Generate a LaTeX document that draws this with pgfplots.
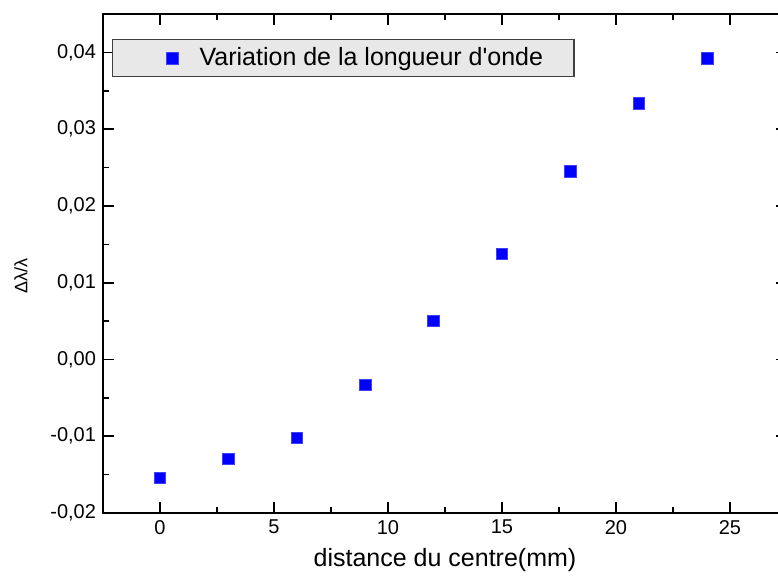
\documentclass[border=0pt]{standalone}
\usepackage{pgfplots}
\pgfplotsset{compat=1.18}
\usepackage{fontspec}
\setmainfont{Liberation Sans}[Ligatures=TeXOff]
\begin{document}
\begin{tikzpicture}
\begin{axis}[
  scale only axis, width=342pt, height=249.5pt,
  xmin=-2.5, xmax=27.5, ymin=-0.02, ymax=0.045,
  xtick={0,5,10,15,20,25},
  ytick={-0.02,-0.01,0,0.01,0.02,0.03,0.04},
  minor x tick num=1, minor y tick num=1,
  tick align=inside,
  xtick pos=both, ytick pos=both,
  xticklabel pos=lower, yticklabel pos=left,
  major tick length=5.5pt, minor tick length=3pt,
  axis line style={line width=1pt},
  every tick/.style={black, line width=0.8pt},
  /pgf/number format/assume math mode=true,
  scaled y ticks=false,
  yticklabel style={/pgf/number format/.cd, fixed, fixed zerofill, precision=2, use comma},
  tick label style={font=\fontsize{10}{12}\selectfont},
  xlabel={distance du centre(mm)},
  xlabel style={font=\fontsize{12.5}{15}\selectfont},
  ylabel={Δλ/λ},
  ylabel style={font=\fontsize{9}{11}\selectfont, at={(ticklabel cs:0.475)}, yshift=4.5pt},
  legend style={at={(0.0132,0.95)}, anchor=north west,
    font=\fontsize{12.5}{15}\selectfont,
    fill=black!9, draw=black!75, line width=0.6pt,
    inner xsep=13.5pt, inner ysep=2pt},
  legend image code/.code={\path[draw=none, fill=none] (0pt,0pt) -- (28pt,0pt);
    \path[#1, draw=none] plot[only marks] coordinates {(16.5pt,0pt)};},
]
\addplot[only marks, mark=square*, mark size=2.9pt, mark options={fill=blue, draw=blue!75!white, line width=0.4pt}]
coordinates {
(0,-0.01544)
(3,-0.01296)
(6,-0.01022)
(9,-0.00331)
(12,0.00503)
(15,0.01377)
(18,0.02446)
(21,0.03332)
(24,0.0392)
};
\legend{Variation de la longueur d'onde}
\coordinate (O) at (rel axis cs:0,0);
\end{axis}
\pgfresetboundingbox
\path ([shift={(-51.5pt,-36pt)}]O) rectangle ([shift={(337.5pt,256.5pt)}]O);
\end{tikzpicture}
\end{document}
